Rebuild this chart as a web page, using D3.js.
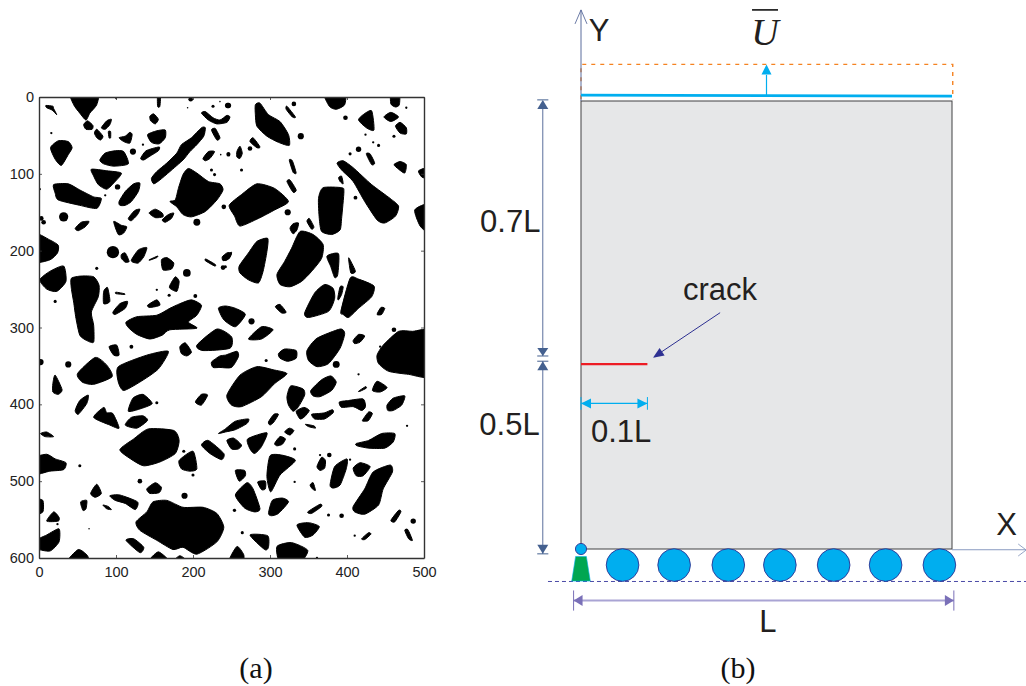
<!DOCTYPE html>
<html><head><meta charset="utf-8">
<script src="https://cdn.jsdelivr.net/npm/d3@7"></script>
<style>html,body{margin:0;padding:0;background:#fff;overflow:hidden}svg{display:block}</style>
</head><body><svg id="c" width="1026" height="686"></svg>
<script>
// ---- panel (a): image coordinates ----
const xTicks=[0,100,200,300,400,500];
const yTicks=[0,100,200,300,400,500,600];
const grains=[
[[41,-6],[76,-6],[75,10],[66,21],[61,30],[53,21],[45,10]],
[[58,36],[63,31],[70,37],[69,42],[61,42]],
[[81,40],[88,31],[94,29],[92,36],[86,42]],
[[72,47],[75,42],[83,51],[80,56],[75,53]],
[[9,11],[18,12],[19,15],[23,23],[17,17],[10,14]],
[[15,66],[25,57],[38,58],[43,66],[38,75],[29,89],[21,81]],
[[144,25],[149,22],[155,29],[151,35],[145,31]],
[[141,49],[153,44],[164,43],[164,53],[156,61],[146,59]],
[[104,53],[112,51],[118,46],[121,49],[118,60],[110,58]],
[[132,80],[139,70],[156,65],[155,70],[144,77],[136,82]],
[[146,106],[153,97],[166,86],[179,73],[185,62],[198,53],[211,40],[216,40],[214,51],[205,62],[196,71],[187,82],[170,97],[157,108],[149,113]],
[[194,93],[205,99],[220,110],[235,113],[239,121],[231,134],[216,149],[198,156],[187,153],[179,143],[170,136],[177,134],[181,119],[187,101]],
[[68,94],[88,96],[107,99],[99,110],[88,120],[77,114],[71,103]],
[[79,82],[86,73],[99,70],[110,71],[116,87],[97,90],[84,87]],
[[19,114],[38,113],[53,121],[71,130],[81,132],[75,145],[53,141],[25,134],[21,125]],
[[104,136],[112,123],[123,113],[131,112],[129,123],[120,136],[112,141],[105,141]],
[[116,158],[124,148],[131,146],[128,153],[120,161]],
[[143,151],[151,146],[160,151],[161,156],[151,157]],
[[160,160],[168,153],[175,151],[172,158],[164,163]],
[[47,171],[55,163],[65,162],[60,169],[51,174]],
[[97,162],[107,167],[114,169],[110,177],[103,179]],
[[-6,178],[14,186],[25,193],[24,203],[14,212],[-6,214]],
[[107,205],[112,203],[117,214],[112,215],[107,210]],
[[120,212],[129,199],[140,196],[136,208],[129,216],[122,215]],
[[143,212],[154,207],[153,209],[145,212]],
[[159,212],[166,209],[175,216],[172,224],[161,225]],
[[1,238],[14,227],[32,220],[35,240],[23,253],[10,250]],
[[42,236],[55,233],[71,234],[78,245],[77,260],[68,280],[71,297],[71,319],[62,317],[53,310],[48,288],[45,267],[42,249]],
[[84,253],[89,248],[92,266],[84,269]],
[[100,254],[111,256],[111,257],[100,256]],
[[96,280],[105,269],[115,266],[112,275],[99,283]],
[[141,271],[153,264],[157,271],[144,274]],
[[170,245],[177,234],[182,240],[179,253],[170,249]],
[[217,211],[229,218],[228,220],[216,213]],
[[238,208],[244,203],[250,203],[246,211],[239,213]],
[[113,293],[127,286],[153,284],[170,275],[183,269],[198,264],[211,271],[205,284],[194,293],[205,301],[170,303],[160,310],[144,315],[127,309],[116,300]],
[[233,275],[242,272],[255,275],[268,283],[255,299],[240,290]],
[[205,323],[231,302],[250,312],[248,327],[213,330]],
[[272,315],[289,299],[304,303],[289,315]],
[[154,-6],[158,-6],[157,12],[154,12]],
[[211,21],[216,19],[226,27],[235,30],[244,24],[248,26],[244,33],[231,35],[220,30]],
[[224,43],[229,41],[235,53],[231,56]],
[[213,80],[220,71],[228,71],[222,80],[216,83]],
[[90,45],[93,45],[93,53],[91,53]],
// upper right
[[281,10],[287,8],[298,23],[313,32],[324,49],[325,63],[311,59],[296,51],[283,38],[281,23]],
[[370,-6],[397,-6],[397,10],[386,16],[377,12]],
[[457,-6],[468,-6],[468,10],[463,13],[457,9]],
[[415,30],[421,23],[432,18],[435,43],[425,40]],
[[448,26],[457,20],[467,26],[457,32]],
[[463,38],[469,33],[477,40],[477,48],[469,47]],
[[322,12],[333,26],[329,26],[321,16]],
[[257,71],[261,64],[264,73],[261,80],[257,78]],
[[274,58],[278,53],[287,65],[283,66]],
[[325,82],[329,83],[334,99],[330,98]],
[[322,110],[326,108],[334,121],[330,124]],
[[247,141],[263,127],[283,113],[306,119],[324,136],[306,147],[285,158],[261,168],[254,155]],
[[363,132],[369,118],[393,118],[396,123],[393,158],[391,173],[380,179],[367,175],[364,158]],
[[387,86],[395,83],[408,92],[432,114],[456,132],[467,142],[463,155],[449,164],[439,160],[423,136],[408,110],[393,95]],
[[389,105],[393,103],[395,113],[391,110]],
[[425,74],[430,74],[436,86],[432,88]],
[[461,88],[469,84],[477,88],[475,99],[467,94]],
[[493,96],[506,92],[506,106],[497,104]],
[[488,147],[506,140],[506,175],[495,168]],
[[326,171],[330,165],[337,164],[335,173],[330,178]],
[[348,162],[351,158],[357,169],[354,172]],
[[260,220],[272,203],[283,188],[297,184],[296,201],[291,227],[285,242],[272,238],[261,229]],
[[242,210],[250,202],[248,209],[242,213]],
[[309,231],[319,214],[328,197],[339,175],[356,179],[369,192],[367,210],[354,227],[341,240],[326,247],[313,244]],
[[374,207],[389,204],[388,231],[384,235],[379,221]],
[[402,210],[404,212],[411,227],[405,229]],
[[392,279],[404,236],[415,237],[435,246],[432,260],[415,275],[402,287],[395,283]],
[[345,281],[358,255],[371,244],[382,249],[384,262],[376,279],[350,287]],
[[388,262],[391,247],[395,247],[393,257],[389,264]],
[[439,283],[444,274],[449,275],[445,283]],
[[307,273],[313,270],[321,280],[315,281]],
[[439,336],[447,323],[467,305],[485,305],[510,305],[510,363],[480,361],[454,357],[441,347]],
// lower right
[[348,330],[361,314],[391,302],[397,308],[391,327],[376,347],[361,351],[350,343]],
[[408,317],[415,309],[423,311],[417,319],[410,321]],
[[311,334],[319,328],[334,330],[334,340],[323,344],[313,340]],
[[224,345],[235,337],[242,336],[257,331],[259,338],[250,352],[235,352],[226,352]],
[[244,388],[261,362],[283,351],[304,355],[322,360],[306,373],[289,390],[263,403],[250,401]],
[[433,382],[439,370],[452,378],[443,384]],
[[415,383],[424,377],[425,379],[417,383]],
[[353,382],[367,368],[379,363],[386,371],[380,382],[365,390],[356,389]],
[[322,390],[327,376],[343,380],[345,388],[337,403],[330,409],[324,401]],
[[334,409],[344,404],[351,408],[345,416],[339,419]],
[[354,413],[363,412],[371,411],[381,407],[382,411],[371,419],[358,419]],
[[390,397],[402,395],[421,393],[424,403],[419,408],[408,403],[393,404]],
[[452,401],[460,392],[475,389],[471,401],[460,408],[453,408]],
[[420,421],[428,410],[433,412],[428,421],[423,422]],
[[298,423],[305,413],[311,413],[305,423],[300,427]],
[[233,438],[242,432],[255,422],[272,419],[270,425],[255,433],[242,436]],
[[346,426],[357,428],[359,431],[350,429]],
[[319,436],[325,431],[331,434],[326,440]],
[[244,447],[253,444],[263,453],[259,458],[250,458]],
[[271,445],[296,437],[289,455],[280,464],[274,458]],
[[306,451],[313,442],[320,445],[316,452],[309,454]],
[[412,451],[428,447],[445,438],[462,438],[460,449],[449,457],[428,457],[413,454]],
[[361,481],[367,469],[372,473],[371,483],[365,486]],
[[378,505],[384,481],[400,471],[399,484],[391,505],[382,509]],
[[408,483],[417,476],[430,481],[421,493],[412,493]],
[[408,533],[423,510],[434,488],[456,479],[459,488],[447,510],[441,531],[423,543],[410,540]],
[[296,494],[300,467],[315,466],[333,473],[313,492],[301,514]],
[[255,486],[267,486],[268,493],[260,500]],
[[284,501],[294,500],[294,510],[289,511]],
[[255,518],[270,502],[278,510],[287,536],[280,540],[267,535]],
[[298,542],[303,525],[316,522],[324,527],[311,542],[302,545]],
[[352,505],[356,502],[359,512],[355,510]],
[[349,540],[365,530],[367,533],[354,542]],
[[457,551],[467,538],[470,540],[462,553]],
[[475,564],[479,563],[485,577],[480,575]],
[[419,575],[428,567],[431,569],[423,576]],
[[335,557],[350,554],[364,559],[356,570],[345,573]],
[[274,570],[297,571],[298,586],[293,589]],
[[309,585],[328,580],[349,590],[339,606],[313,606]],
[[246,606],[257,585],[266,596],[264,606]],
// lower left
[[91,325],[101,323],[104,336],[97,336]],
[[50,360],[73,339],[88,349],[95,364],[71,374],[56,371]],
[[103,351],[140,336],[168,331],[155,354],[131,371],[110,382],[103,371]],
[[183,325],[190,320],[198,332],[192,337],[185,334]],
[[18,373],[21,362],[30,381],[25,387],[18,384]],
[[47,408],[53,395],[64,388],[62,399],[51,413]],
[[71,417],[84,404],[88,411],[96,412],[104,431],[92,427]],
[[116,409],[122,392],[135,387],[147,399],[131,406]],
[[112,427],[120,417],[135,415],[141,421],[127,431]],
[[203,397],[211,387],[219,388],[211,401]],
[[2,438],[10,436],[19,442],[8,442]],
[[-6,470],[10,465],[21,471],[35,476],[32,485],[14,487],[-6,491]],
[[105,459],[123,445],[142,432],[175,434],[182,447],[177,464],[157,475],[136,480],[119,471]],
[[211,453],[220,447],[240,464],[237,472],[222,464]],
[[182,473],[200,461],[205,484],[196,487],[185,484]],
[[67,516],[75,504],[81,516],[73,521]],
[[140,510],[151,502],[159,508],[156,515],[144,516]],
[[92,519],[105,518],[128,527],[125,537],[112,529],[99,525]],
[[83,531],[90,533],[94,537],[88,536]],
[[54,527],[62,525],[61,536],[57,538]],
[[-6,524],[5,525],[5,540],[-6,543]],
[[10,552],[19,540],[26,547],[25,552]],
[[-6,578],[10,570],[26,562],[26,579],[14,591],[-6,587]],
[[36,606],[51,589],[63,597],[63,606]],
[[113,577],[123,575],[136,586],[131,593]],
[[126,553],[140,540],[148,527],[166,525],[187,534],[213,534],[231,542],[240,560],[231,579],[205,595],[187,586],[174,589],[153,577],[131,564]],
[[142,606],[155,592],[170,606]],
[[174,606],[183,597],[194,606]],
[[248,606],[255,590],[258,606]]
];
const specks=[
[32,156,6],[96,202,8],[192,229,5],[205,163,4.5],[240,143,3],[122,71,4],[75,223,2],[153,251,1.5],[169,258,2],[203,259,2.5],
[21,266,2],[239,222,3],[86,128,1.5],[102,117,3.5],[197,3,3],[245,11,3.5],[235,6,1],[226,12,2],[193,14,1],[246,75,2.5],
[236,75,1],[224,95,2],[228,101,2],[16,47,1.5],[135,62,1.5],[100,2,1],[3,158,3],[6,163,3],[1,120,1.5],[246,11,3.5],
[244,27,3],[331,9,3],[340,51,4],[246,74,2.5],[274,67,3],[263,95,2],[323,150,4],[461,51,2],[441,63,2],[434,59,1.5],
[424,49,1.5],[398,27,3],[477,14,1.5],[411,131,2.5],[415,68,3.5],[404,74,2],[242,221,2],[276,292,4],[461,303,3],[443,325,1.5],
[386,348,4.5],[295,343,2],[415,361,1.5],[478,428,1.5],[332,458,2],[377,466,3],[365,466,1.5],[404,472,1.5],[332,501,1.5],[254,538,2],
[376,544,2],[393,545,3],[486,552,3.5],[410,571,1.5],[264,567,2],[361,600,1.5],[120,325,2.5],[38,348,4],[2,345,4],[153,398,2],
[188,461,2],[200,492,2],[53,480,2],[131,500,3],[189,519,4],[24,556,1.5],[253,538,1.5],[65,562,1]
];
// ---- panel (b): lengths in units of L ----
const rollers=[0.112,0.251,0.397,0.536,0.681,0.821,0.966];
const rollerRadius=0.044, hingeRadius=0.015, plateHeight=1.2;
const crackY=0.495, crackEnd=0.179;
const captions=[["(a)",256],["(b)",738]];
const dimLabels=[
 {t:"0.7L",x:-0.272,y:0.849},{t:"0.5L",x:-0.274,y:0.305},{t:"0.1L",x:0.027,y:0.287},
 {t:"crack",x:0.275,y:0.668},{t:"Y",x:0.021,y:1.361},{t:"X",x:1.119,y:0.0375}
];

const svg=d3.select("#c");
const x=d3.scaleLinear().domain([0,500]).range([39,424]);
const y=d3.scaleLinear().domain([0,600]).range([97,558]);
const X=d3.scaleLinear().domain([0,1]).range([581,952]);
const Y=d3.scaleLinear().domain([0,1.2]).range([549,101]);
const SANS="'Liberation Sans',Arial,sans-serif", SERIF="'Liberation Serif',serif";
const INK="#231f20";

// panel (a)
const defs=svg.append("defs");
defs.append("clipPath").attr("id","pa").append("rect").attr("x",39).attr("y",97).attr("width",385).attr("height",461);
const ga=svg.append("g").attr("clip-path","url(#pa)");
const blob=d3.line().x(d=>x(d[0])).y(d=>y(d[1])).curve(d3.curveCardinalClosed.tension(0.35));
ga.selectAll("path").data(grains).join("path").attr("d",blob).attr("fill","#000")
  .attr("stroke","#000").attr("stroke-width",1).attr("stroke-linejoin","round");
ga.selectAll("circle").data(specks).join("circle")
  .attr("cx",d=>x(d[0])).attr("cy",d=>y(d[1])).attr("r",d=>x(d[2])-x(0)).attr("fill","#000");

function styleAxis(g,labels){
  g.select(".domain").attr("stroke","#333").attr("stroke-width",1.4);
  g.selectAll(".tick line").attr("stroke","#333").attr("stroke-width",0.8);
  g.selectAll("text").attr("font-family",SANS).attr("font-size",14.5).attr("fill","#222");
  if(!labels) g.selectAll("text").remove();
}
svg.append("g").attr("transform","translate(0,558)").call(d3.axisBottom(x).tickValues(xTicks).tickSize(-3).tickPadding(9).tickSizeOuter(0)).call(g=>styleAxis(g,true));
svg.append("g").attr("transform","translate(39,0)").call(d3.axisLeft(y).tickValues(yTicks).tickSize(-3).tickPadding(5).tickSizeOuter(0)).call(g=>styleAxis(g,true));
svg.append("g").attr("transform","translate(0,97)").call(d3.axisTop(x).tickValues(xTicks).tickSize(-3).tickSizeOuter(0)).call(g=>styleAxis(g,false));
svg.append("g").attr("transform","translate(424,0)").call(d3.axisRight(y).tickValues(yTicks).tickSize(-3).tickSizeOuter(0)).call(g=>styleAxis(g,false));

// panel (b)
const gb=svg.append("g");
function seg(x1,y1,x2,y2,c,w,dash){
  const s=gb.append("line").attr("x1",X(x1)).attr("y1",Y(y1)).attr("x2",X(x2)).attr("y2",Y(y2)).attr("stroke",c).attr("stroke-width",w);
  if(dash) s.attr("stroke-dasharray",dash);
  return s;
}
function head(px,py,dx,dy,len,wid,c){
  const nx=-dy,ny=dx;
  const pts=[[px,py],[px-dx*len+nx*wid/2,py-dy*len+ny*wid/2],[px-dx*len-nx*wid/2,py-dy*len-ny*wid/2]];
  gb.append("polygon").attr("points",pts.map(p=>p.join(",")).join(" ")).attr("fill",c);
}
// displaced edge (open at the bottom)
gb.append("path").attr("d",`M${X(0)},${Y(1.205)}V${Y(1.298)}H${X(1.002)}V${Y(1.205)}`)
  .attr("fill","none").attr("stroke","#f58220").attr("stroke-width",1.4).attr("stroke-dasharray","4 5");
// plate
gb.append("rect").attr("x",X(0)).attr("y",Y(plateHeight)).attr("width",X(1)-X(0)).attr("height",Y(0)-Y(plateHeight))
  .attr("fill","#e6e7e8").attr("stroke","#414042").attr("stroke-width",1);
// axes
const AX="#5b6c9c";
seg(0,1.2,0,1.444,AX,1);
gb.append("path").attr("d",`M${X(0)-6},${Y(1.444)+14}L${X(0)},${Y(1.444)}L${X(0)+6},${Y(1.444)+14}`).attr("fill","none").attr("stroke",AX).attr("stroke-width",0.9);
seg(1,-0.002,1.2,-0.002,"#8a9bc0",1);
gb.append("path").attr("d",`M${X(1.2)-8},${Y(0)-5}L${X(1.2)},${Y(0)+1}L${X(1.2)-8},${Y(0)+7}`).attr("fill","none").attr("stroke","#8a9bc0").attr("stroke-width",0.9);
seg(0,1.216,1,1.213,"#00aeef",2.8);
seg(0.5,1.216,0.5,1.27,"#00aeef",1.2);
head(X(0.5),Y(1.298),0,-1,10,10,"#00aeef");
// vertical dimensions
const DIM="#5b6f9c",DH="#44608f";
seg(-0.103,1.2,-0.103,0.517,DIM,1);
seg(-0.103,0.503,-0.103,-0.013,DIM,1);
head(X(-0.103),Y(1.203),0,-1,9,11,DH);
head(X(-0.103),Y(0.517),0,1,8,11,DH);
head(X(-0.103),Y(0.503),0,-1,9,11,DH);
head(X(-0.103),Y(-0.013),0,1,9,11,DH);
[1.203,0.517,0.503,-0.013].forEach(v=>seg(-0.118,v,-0.088,v,DH,1));
// crack
seg(0,crackY,crackEnd,crackY,"#ed1c24",2.2);
seg(0.375,0.633,0.205,0.52,"#2e3192",1);
head(X(0.194),Y(0.512),-0.83,0.56,11,9,"#2e3192");
// 0.1L dimension
seg(0,0.39,crackEnd,0.39,"#00aeef",1.2);
head(X(0),Y(0.39),-1,0,10,10,"#00aeef");
head(X(crackEnd),Y(0.39),1,0,10,10,"#00aeef");
[0,crackEnd].forEach(v=>seg(v,0.373,v,0.407,"#00aeef",1));
// support
seg(-0.089,-0.087,1.2,-0.087,"#4a4aa6",1,"4 3");
const tri=[[-0.0145,-0.02],[0.0145,-0.02],[0.025,-0.086],[-0.025,-0.086]];
gb.append("polygon").attr("points",tri.map(p=>[X(p[0]),Y(p[1])].join(",")).join(" "))
  .attr("fill","#00a651").attr("stroke","#00aeef").attr("stroke-width",0.6);
gb.append("g").selectAll("circle").data(rollers).join("circle")
  .attr("cx",d=>X(d)).attr("cy",Y(-0.043)).attr("r",X(rollerRadius)-X(0))
  .attr("fill","#00aeef").attr("stroke","#2e3192").attr("stroke-width",0.9);
gb.append("circle").attr("cx",X(0)).attr("cy",Y(0)).attr("r",X(hingeRadius)-X(0))
  .attr("fill","#00aeef").attr("stroke","#2e3192").attr("stroke-width",0.9);
// L dimension
seg(-0.02,-0.138,1.005,-0.138,"#a9a4d4",1.8);
head(X(-0.02),Y(-0.138),-1,0,9,11,"#7a70b8");
head(X(1.005),Y(-0.138),1,0,9,11,"#7a70b8");
[-0.02,1.005].forEach(v=>seg(v,-0.165,v,-0.111,"#7a70b8",1));
// texts
gb.selectAll("text.dim").data(dimLabels).join("text").attr("class","dim")
  .attr("x",d=>X(d.x)).attr("y",d=>Y(d.y)).text(d=>d.t)
  .attr("font-family",SANS).attr("font-size",31).attr("fill",INK);
gb.append("text").attr("x",X(0.504)).attr("y",Y(-0.221)).attr("text-anchor","middle").text("L")
  .attr("font-family",SANS).attr("font-size",31).attr("fill",INK);
gb.append("text").attr("x",X(0.459)).attr("y",Y(1.35)).text("U")
  .attr("font-family",SERIF).attr("font-style","italic").attr("font-size",38).attr("fill",INK);
seg(0.461,1.444,0.531,1.444,"#111",1.6);
// captions
svg.selectAll("text.cap").data(captions).join("text").attr("class","cap")
  .attr("x",d=>d[1]).attr("y",678).attr("text-anchor","middle").text(d=>d[0])
  .attr("font-family",SERIF).attr("font-size",30).attr("fill","#111");
</script></body></html>
